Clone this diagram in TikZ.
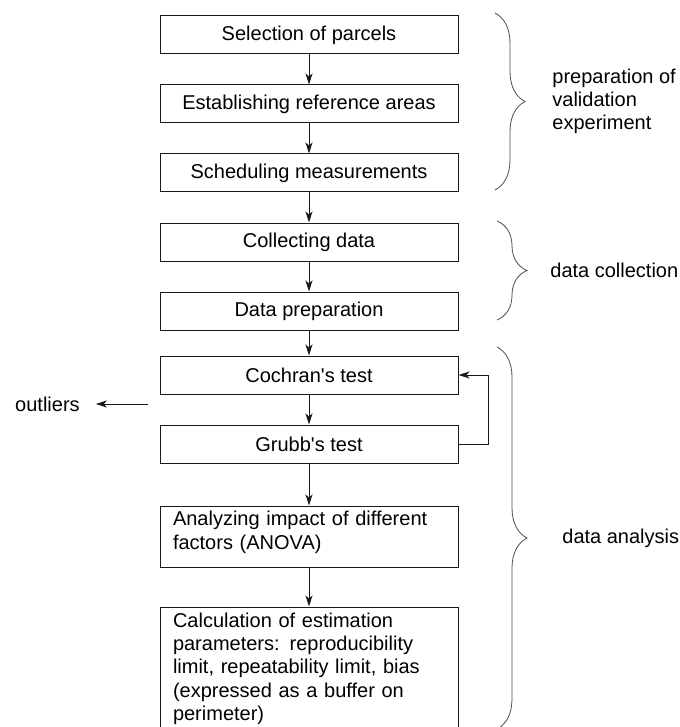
\documentclass[tikz,border=0pt]{standalone}
\usepackage{fontspec}
\setmainfont{Liberation Sans}
\usetikzlibrary{positioning,arrows.meta,decorations.pathreplacing}

\begin{document}
\begin{tikzpicture}[x=1pt,y=-1pt, node distance=30pt,
  font=\fontsize{20}{23.3}\selectfont,
  box/.style={draw=black!90, line width=1pt, minimum width=298pt, minimum height=38pt, inner sep=0pt},
  tbox/.style={box, align=left, text width=272pt, inner xsep=13pt},
  arr/.style={-{Stealth[length=11pt,width=7pt,inset=3pt]}, line width=1pt, black!90},
  brc/.style={decorate, decoration={brace, amplitude=30pt}, line width=0.8pt, black!70},
  lbl/.style={inner sep=0pt, align=left, text=black}]
  \useasboundingbox (0,0) rectangle (679,727);
  % main chain
  \node[box] (sel) at (309,35) {Selection of parcels};
  \node[box, below=of sel] (ref) {Establishing reference areas};
  \node[box, below=of ref] (sched) {Scheduling measurements};
  \node[box, below=of sched] (coll) {Collecting data};
  \node[box, below=of coll] (prep) {Data preparation};
  \node[box, below=25pt of prep] (coch) {Cochran\textquotesingle s test};
  \node[box, below=of coch] (grubb) {Grubb\textquotesingle s test};
  \node[tbox, minimum height=61pt, text depth=36pt, below=42pt of grubb] (anova) {Analyzing impact of different\\factors (ANOVA)};
  \node[tbox, minimum height=132pt, text depth=106pt, below=39pt of anova] (calc) {Calculation of estimation\\parameters: reproducibility\\limit, repeatability limit, bias\\(expressed as a buffer on\\perimeter)};
  \foreach \a/\b in {sel/ref, ref/sched, sched/coll, coll/prep, prep/coch, coch/grubb, grubb/anova, anova/calc}
    \draw[arr] (\a) -- (\b);
  % loop back and outliers
  \draw[arr] (grubb.east) -- ++(30,0) |- (coch.east);
  \node[lbl, anchor=west] (outl) at (15,404) {outliers};
  \coordinate (osrc) at (148,404);
  \draw[arr, shorten >=16pt] (osrc) -- (outl.east);
  % braces
  \draw[brc] (495,13) -- (495,190) node[lbl, midway, right=57pt] (lprep) {preparation of\\validation\\experiment};
  \draw[brc] (497,221) -- (497,320) node[lbl, midway, right=53pt] (lcoll) {data collection};
  \draw[brc] (497,347) -- (497,729) node[lbl, midway, right=65pt] (lana) {data analysis};
\end{tikzpicture}
\end{document}
